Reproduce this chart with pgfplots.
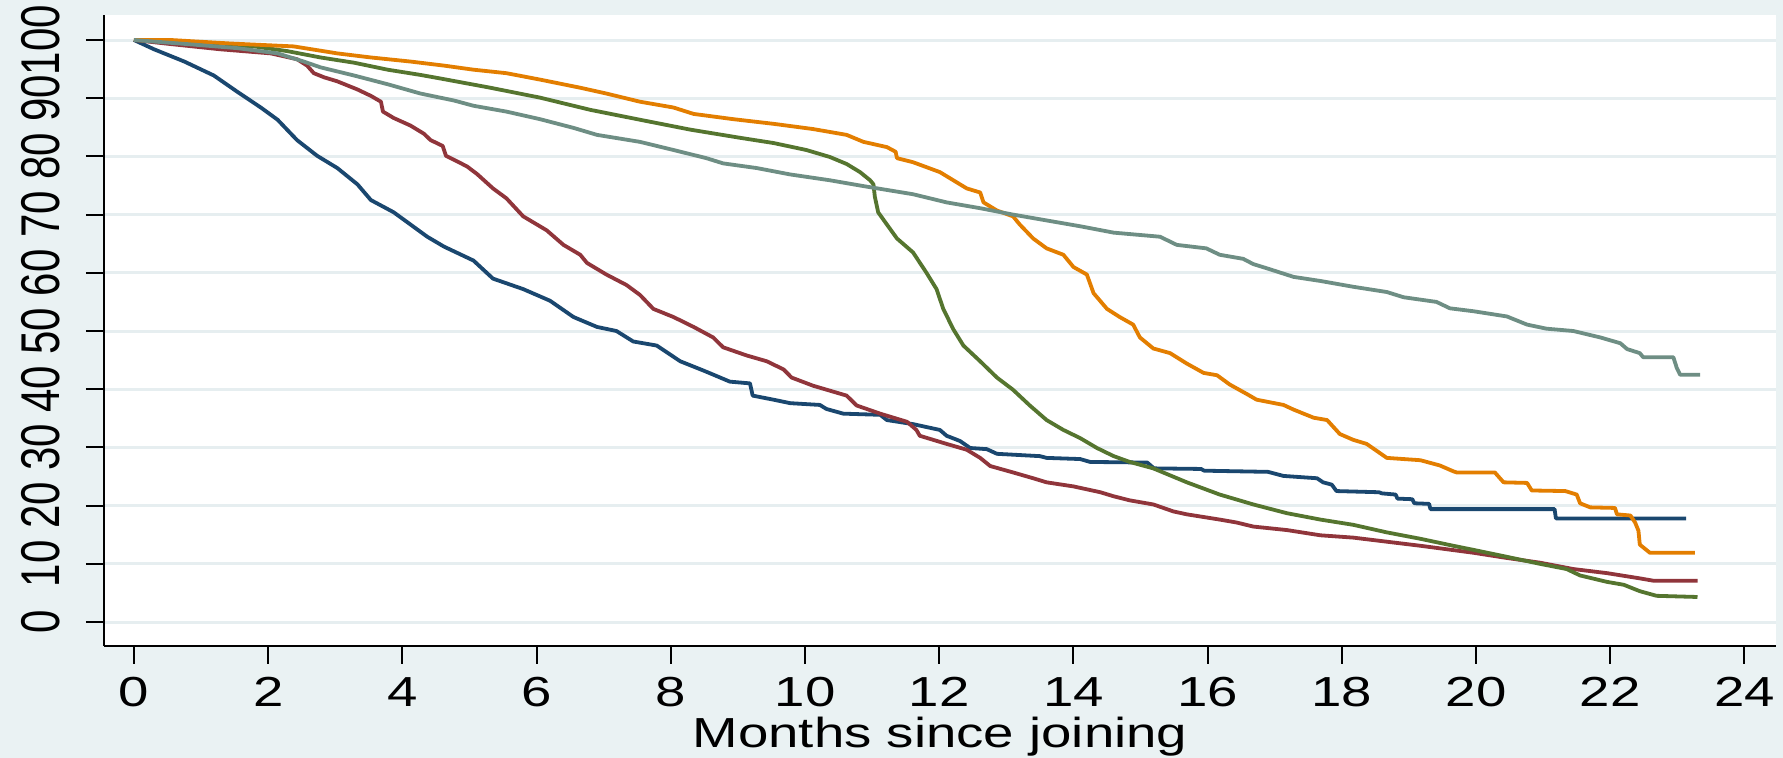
\documentclass[border=0pt]{standalone}
\usepackage{fontspec}
\setmainfont{Liberation Sans}
\newfontfamily\widefont[FakeStretch=1.3]{Liberation Sans}
\usepackage{graphicx}
\usepackage{pgfplots}
\pgfplotsset{compat=1.18}
\newcommand{\yl}[1]{\scalebox{1}[1.3]{#1}}
\definecolor{bgc}{HTML}{EAF2F3}
\definecolor{gridc}{HTML}{E6EEF0}
\definecolor{navyc}{RGB}{26,71,111}
\definecolor{maroonc}{RGB}{144,53,59}
\definecolor{greenc}{RGB}{85,117,47}
\definecolor{orangec}{RGB}{227,126,0}
\definecolor{tealc}{RGB}{110,142,132}
\begin{document}
\begin{tikzpicture}
\path[use as bounding box, fill=bgc] (-52pt,-56pt) rectangle (839.5pt,323pt);
\begin{axis}[at={(0pt,0pt)}, anchor=south west, scale only axis,
  width=836pt, height=315.5pt,
  xmin=-0.447, xmax=24.47, ymin=-4.12, ymax=104.3,
  axis background/.style={fill=white},
  axis x line*=bottom, axis y line*=left,
  axis line style={line width=1pt, -, black},
  tick align=outside, major tick length=9pt,
  tick style={line width=1pt, black},
  xtick={0,2,4,6,8,10,12,14,16,18,20,22,24},
  xticklabels={0,2,4,6,8,10,12,14,16,18,20,22,24},
  ytick={0,10,20,30,40,50,60,70,80,90,100},
  yticklabels={\yl{0},\yl{10},\yl{20},\yl{30},\yl{40},\yl{50},\yl{60},\yl{70},\yl{80},\yl{90},\yl{100}},
  ymajorgrids, major grid style={line width=1.5pt, color=gridc},
  xticklabel style={font=\widefont\fontsize{21}{24}\selectfont, anchor=north, inner sep=0pt},
  xticklabel shift=6.5pt,
  yticklabel style={font=\fontsize{21}{24}\selectfont, rotate=90, anchor=south, inner sep=0pt},
  yticklabel shift=13pt,
  xlabel={Months since joining},
  xlabel style={font=\widefont\fontsize{21}{24}\selectfont, at={(axis description cs:0.5,0)}, anchor=base, yshift=-51pt, inner sep=0pt},
  every axis plot/.append style={line width=1.9pt, line join=round},
]
\addplot[color=navyc] coordinates {
(0,100) (0.30,98.4) (0.75,96.3) (1.19,93.9) (1.54,91.1) (1.89,88.4) (2.14,86.3) (2.43,82.8) (2.73,80.1) (3.03,78.0) (3.33,75.2) (3.53,72.5) (3.87,70.4) (4.12,68.3) (4.37,66.2) (4.62,64.5) (5.06,62.1) (5.35,59.0) (5.80,57.2) (6.20,55.2) (6.55,52.4) (6.90,50.7) (7.19,50.0) (7.44,48.2) (7.79,47.5) (8.14,44.8) (8.53,43.0) (8.88,41.3) (9.18,41.0) (9.22,38.9) (9.53,38.2) (9.78,37.6) (10.22,37.3) (10.32,36.6) (10.57,35.8) (11.12,35.6) (11.22,34.7) (11.61,34.0) (12.01,33.0) (12.11,32.0) (12.31,31.1) (12.46,29.9) (12.71,29.7) (12.86,28.9) (13.50,28.5) (13.60,28.2) (14.10,28.0) (14.25,27.5) (15.10,27.4) (15.20,26.4) (15.90,26.3) (15.95,26.0) (16.90,25.8) (17.13,25.1) (17.63,24.7) (17.72,24.0) (17.85,23.6) (17.92,22.5) (18.55,22.3) (18.60,22.1) (18.80,21.9) (18.83,21.2) (19.05,21.1) (19.08,20.4) (19.30,20.3) (19.32,19.4) (21.17,19.4) (21.19,17.8) (23.13,17.8)
};
\addplot[color=maroonc] coordinates {
(0,100) (0.55,99.3) (1.29,98.4) (2.04,97.7) (2.43,96.7) (2.58,95.6) (2.68,94.3) (2.83,93.6) (3.03,92.9) (3.33,91.5) (3.53,90.4) (3.68,89.4) (3.71,87.7) (3.87,86.6) (4.12,85.3) (4.32,83.9) (4.42,82.8) (4.60,81.8) (4.65,80.1) (4.96,78.3) (5.11,77.0) (5.35,74.5) (5.55,72.8) (5.80,69.7) (6.15,67.3) (6.40,64.8) (6.65,63.1) (6.75,61.7) (7.04,59.7) (7.34,57.9) (7.54,56.2) (7.74,53.8) (8.04,52.4) (8.34,50.7) (8.63,48.9) (8.78,47.2) (9.13,45.8) (9.43,44.8) (9.68,43.4) (9.80,42.0) (10.12,40.6) (10.62,38.9) (10.77,37.2) (11.12,35.8) (11.52,34.4) (11.66,33.0) (11.71,32.0) (12.11,30.6) (12.41,29.6) (12.61,28.2) (12.76,26.8) (13.10,25.7) (13.40,24.7) (13.60,24.0) (14.00,23.3) (14.40,22.3) (14.60,21.6) (14.84,20.9) (15.19,20.2) (15.49,19.0) (15.69,18.5) (16.18,17.6) (16.43,17.1) (16.68,16.4) (17.18,15.8) (17.68,14.9) (18.17,14.5) (18.67,13.8) (19.17,13.1) (19.50,12.6) (19.96,11.9) (20.46,11.0) (20.95,10.2) (21.45,9.1) (21.95,8.4) (22.44,7.5) (22.64,7.1) (23.30,7.1)
};
\addplot[color=greenc] coordinates {
(0,100) (1.04,99.4) (1.79,98.9) (2.28,98.1) (2.78,97.0) (3.28,96.1) (3.78,94.9) (4.27,94.0) (4.56,93.4) (5.31,91.8) (6.05,90.1) (6.80,88.0) (7.54,86.3) (8.29,84.6) (9.03,83.2) (9.53,82.3) (10.02,81.1) (10.37,79.9) (10.62,78.7) (10.82,77.3) (10.97,75.9) (11.02,75.2) (11.04,73.1) (11.09,70.4) (11.22,68.3) (11.37,65.9) (11.61,63.5) (11.81,60.0) (11.96,57.2) (12.06,53.8) (12.21,50.3) (12.36,47.5) (12.61,44.8) (12.86,42.0) (13.10,39.9) (13.35,37.2) (13.60,34.7) (13.85,33.0) (14.10,31.6) (14.35,29.9) (14.60,28.5) (14.84,27.5) (15.19,26.4) (15.69,24.0) (16.18,21.9) (16.68,20.2) (17.18,18.7) (17.68,17.6) (18.17,16.7) (18.67,15.4) (19.17,14.3) (19.66,13.1) (19.96,12.4) (20.46,11.2) (20.95,10.0) (21.35,9.1) (21.55,8.0) (21.95,6.9) (22.20,6.4) (22.44,5.3) (22.69,4.5) (23.30,4.3)
};
\addplot[color=orangec] coordinates {
(0,100) (0.55,100.0) (1.44,99.4) (2.38,98.9) (3.03,97.7) (3.53,97.0) (4.12,96.3) (4.62,95.6) (5.06,94.9) (5.55,94.3) (6.05,93.2) (6.65,91.8) (7.04,90.8) (7.54,89.4) (8.04,88.4) (8.34,87.3) (8.93,86.4) (9.53,85.6) (10.12,84.7) (10.62,83.7) (10.87,82.5) (11.22,81.6) (11.35,80.8) (11.37,79.7) (11.61,79.0) (12.01,77.3) (12.21,75.9) (12.41,74.5) (12.61,73.8) (12.66,72.1) (12.86,70.7) (13.10,69.7) (13.20,68.3) (13.40,65.9) (13.60,64.2) (13.85,63.1) (14.00,61.0) (14.20,59.7) (14.30,56.5) (14.50,53.8) (14.69,52.4) (14.89,51.1) (14.99,48.9) (15.19,47.0) (15.44,46.2) (15.69,44.4) (15.94,42.8) (16.14,42.4) (16.33,40.8) (16.58,39.2) (16.73,38.2) (17.13,37.3) (17.28,36.5) (17.58,35.1) (17.78,34.7) (17.97,32.3) (18.17,31.3) (18.37,30.6) (18.67,28.2) (19.17,27.8) (19.46,26.9) (19.66,25.9) (19.71,25.7) (20.28,25.7) (20.41,24.0) (20.76,23.9) (20.83,22.6) (21.33,22.5) (21.50,21.9) (21.55,20.4) (21.70,19.7) (22.07,19.6) (22.10,18.5) (22.30,18.3) (22.37,17.1) (22.42,15.7) (22.44,13.3) (22.59,11.9) (23.26,11.9)
};
\addplot[color=tealc] coordinates {
(0,100) (0.79,99.3) (1.54,98.6) (2.14,97.7) (2.53,96.3) (2.78,95.3) (3.28,93.9) (3.78,92.4) (4.27,90.8) (4.77,89.6) (5.06,88.7) (5.55,87.7) (6.05,86.4) (6.55,84.9) (6.90,83.7) (7.54,82.5) (8.04,81.1) (8.53,79.7) (8.78,78.8) (9.28,78.0) (9.78,76.9) (10.37,75.9) (10.87,74.9) (11.61,73.5) (12.11,72.1) (12.61,71.1) (13.10,70.0) (13.60,69.0) (14.10,68.0) (14.60,66.9) (15.29,66.2) (15.54,64.8) (15.98,64.2) (16.18,63.1) (16.53,62.4) (16.68,61.5) (16.93,60.6) (17.28,59.3) (17.68,58.6) (18.17,57.6) (18.67,56.7) (18.92,55.8) (19.41,55.0) (19.61,53.9) (19.96,53.4) (20.46,52.5) (20.76,51.1) (21.05,50.4) (21.45,50.0) (21.85,48.9) (22.15,47.9) (22.25,46.9) (22.44,46.2) (22.49,45.5) (22.94,45.5) (22.99,43.7) (23.04,42.5) (23.34,42.5)
};
\end{axis}
\end{tikzpicture}
\end{document}
